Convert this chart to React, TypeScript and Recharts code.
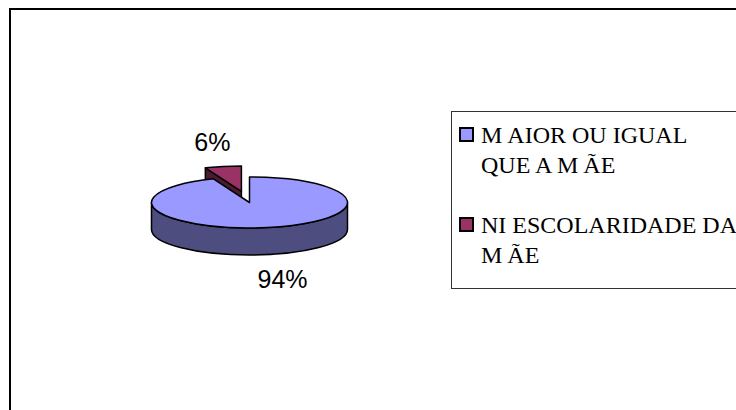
import { PieChart, Pie, Legend } from "recharts";

const categories = ["MAIOR OU IGUAL QUE A MÃE", "NI ESCOLARIDADE DA MÃE"];
const legendLines = [
  ["MAIOR OU IGUAL", "QUE A MÃE"],
  ["NI ESCOLARIDADE DA", "MÃE"],
];
const values = [94, 6];
const topColors = ["#9999FF", "#993366"];
const sideColors = ["#4D4D80", "#4D1A33"];

const RADIUS = 98;
const SQUASH = 0.26;
const DEPTH = 27;
const EXPLODE = [0, 0.44];

// the smaller slice goes first so that the big one is painted over it
const pieData = categories
  .map((name, i) => ({ name, value: values[i], fill: topColors[i], side: sideColors[i], explode: EXPLODE[i], front: i === 0 }))
  .reverse();

const rad = (a: number) => (a * Math.PI) / 180;

function Slice3D(props: any) {
  const { cx, cy, startAngle, endAngle, midAngle, outerRadius, fill, payload } = props;
  const rx = outerRadius;
  const ry = outerRadius * SQUASH;
  const ox = cx + Math.cos(rad(midAngle)) * rx * payload.explode;
  const oy = cy - Math.sin(rad(midAngle)) * ry * payload.explode;
  const px = (a: number) => ox + rx * Math.cos(rad(a));
  const py = (a: number) => oy - ry * Math.sin(rad(a));
  const large = Math.abs(startAngle - endAngle) > 180 ? 1 : 0;
  const line = { stroke: "#000", strokeWidth: 1.5, strokeLinejoin: "round" as const };

  const walls = [];
  if (Math.cos(rad(startAngle)) < -0.001) {
    walls.push(`M${ox},${oy} L${px(startAngle)},${py(startAngle)} v${DEPTH} L${ox},${oy + DEPTH} Z`);
  }
  if (Math.cos(rad(endAngle)) > 0.001) {
    walls.push(`M${ox},${oy} L${px(endAngle)},${py(endAngle)} v${DEPTH} L${ox},${oy + DEPTH} Z`);
  }
  // front rim, only where the slice crosses the lower half of the ellipse
  let rim = "";
  if (endAngle <= -180 && startAngle >= 0) {
    rim = `M${px(0)},${py(0)} A${rx},${ry} 0 0 1 ${px(-180)},${py(-180)} v${DEPTH} A${rx},${ry} 0 0 0 ${px(0)},${py(0) + DEPTH} Z`;
  }

  return (
    <g>
      {walls.map((d) => (
        <path key={d} d={d} fill={payload.side} {...line} />
      ))}
      {rim && <path d={rim} fill={payload.side} {...line} />}
      <path
        d={`M${ox},${oy} L${px(startAngle)},${py(startAngle)} A${rx},${ry} 0 ${large} 1 ${px(endAngle)},${py(endAngle)} Z`}
        fill={fill}
        {...line}
      />
    </g>
  );
}

function renderLabel(props: any) {
  const { cx, cy, midAngle, outerRadius, percent, payload } = props;
  const c = Math.cos(rad(midAngle));
  const s = Math.sin(rad(midAngle));
  const ry = outerRadius * SQUASH;
  const x = cx + c * outerRadius * (1.8 + payload.explode * 0.5);
  const y = cy - s * ry * (1.99 + payload.explode) + (payload.front ? DEPTH : 0);
  return (
    <text x={x} y={y} textAnchor="middle" dominantBaseline="central" fontFamily="Liberation Sans" fontSize={25} fill="#000">
      {Math.round(percent * 100)}%
    </text>
  );
}

// the source chart leaves a small gap after each M in the legend
function spaced(t: string) {
  return t.split("M").map((part, i, all) => (
    <span key={i}>
      {part}
      {i < all.length - 1 && <span style={{ letterSpacing: 5 }}>M</span>}
    </span>
  ));
}

function LegendBox() {
  return (
    <div
      style={{
        position: "absolute",
        left: 451,
        top: 111,
        width: 300,
        height: 176,
        border: "1px solid #333",
        background: "#fff",
        fontFamily: "Liberation Serif",
        fontSize: 24,
        lineHeight: "30px",
        color: "#000",
        whiteSpace: "nowrap",
      }}
    >
      {legendLines.map((lines, i) => (
        <div key={lines[0]} style={{ position: "absolute", left: 29, top: 8 + i * 90 }}>
          <span
            style={{
              position: "absolute",
              left: -22,
              top: 7,
              width: 11,
              height: 11,
              border: "2px solid #000",
              background: topColors[i],
            }}
          />
          {lines.map((t) => (
            <div key={t}>{spaced(t)}</div>
          ))}
        </div>
      ))}
    </div>
  );
}

export default function App() {
  return (
    <div style={{ position: "fixed", left: 0, top: 0, width: 736, height: 410, overflow: "hidden", background: "#fff" }}>
      <div
        style={{
          position: "absolute",
          left: 9,
          top: 8,
          width: 800,
          height: 500,
          borderLeft: "2px solid #000",
          borderTop: "2px solid #000",
        }}
      />
      <div style={{ position: "absolute", left: 0, top: 0 }}>
        <PieChart width={736} height={410} margin={{ top: 0, right: 0, bottom: 0, left: 0 }}>
          <Pie
            data={pieData}
            dataKey="value"
            nameKey="name"
            cx={249.5}
            cy={202.5}
            outerRadius={RADIUS}
            startAngle={90 + 3.6 * values[1]}
            endAngle={90 + 3.6 * values[1] - 360}
            paddingAngle={0}
            stroke="none"
            shape={Slice3D}
            label={renderLabel}
            labelLine={false}
            isAnimationActive={false}
          />
          <Legend content={LegendBox} wrapperStyle={{ position: "static" }} />
        </PieChart>
      </div>
    </div>
  );
}
